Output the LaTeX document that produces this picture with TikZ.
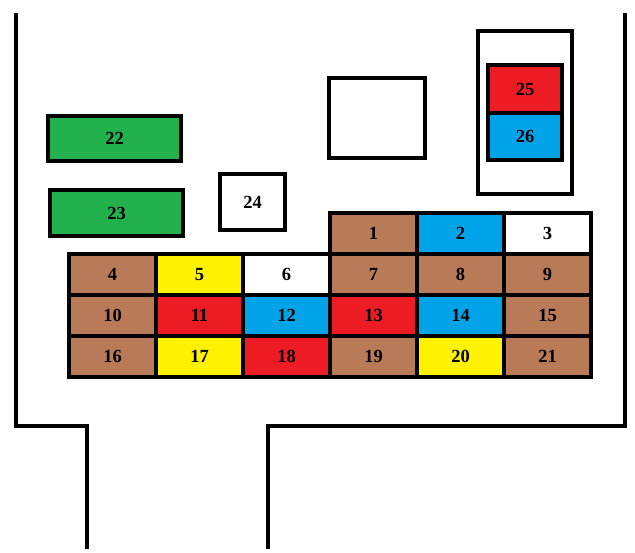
\documentclass[tikz,border=0pt]{standalone}
\usepackage{fontspec}
\setmainfont{Liberation Serif}
\definecolor{fbrown}{HTML}{B97A57}
\definecolor{fred}{HTML}{ED1C24}
\definecolor{fblue}{HTML}{00A2E8}
\definecolor{fyellow}{HTML}{FFF200}
\definecolor{fgreen}{HTML}{22B14C}
\tikzset{
  fuse/.style={draw, line width=4.6pt, inner sep=0pt, minimum width=87pt, minimum height=41pt,
    font=\bfseries\fontsize{18.5}{18.5}\selectfont},
}
\begin{document}
\begin{tikzpicture}[x=1pt, y=-1pt]
        \useasboundingbox (0, 0) rectangle (635, 553);
        % housing outline
        \draw[line width=4.7pt] (16, 13) -- (16, 426) -- (87, 426) -- (87, 549);
        \draw[line width=4.7pt] (625, 13) -- (625, 426) -- (268, 426) -- (268, 549);
        % loose fuses and relays
        \node[fuse, fill=fgreen, minimum width=133pt, minimum height=45pt] (F22) at (114.5, 138.5) {22};
        \node[fuse, fill=fgreen, minimum width=133pt, minimum height=46pt] (F23) at (116.5, 213) {23};
        \node[fuse, fill=white, minimum width=65pt, minimum height=56pt] (F24) at (252.5, 202) {24};
        \node[fuse, minimum width=96pt, minimum height=80pt] (R1) at (377, 118) {};
        \node[fuse, minimum width=94pt, minimum height=163pt] (H1) at (525, 112.5) {};
        \node[fuse, fill=fred, minimum width=74pt, minimum height=48pt] (F25) at (525, 89) {25};
        \node[fuse, fill=fblue, minimum width=74pt, minimum height=47pt] (F26) at (525, 136.5) {26};
        % main block
        \node[fuse, fill=fbrown] (F1) at (373.5, 233.5) {1};
        \node[fuse, fill=fblue] (F2) at (460.5, 233.5) {2};
        \node[fuse, fill=white] (F3) at (547.5, 233.5) {3};
        \node[fuse, fill=fbrown] (F4) at (112.5, 274.5) {4};
        \node[fuse, fill=fyellow] (F5) at (199.5, 274.5) {5};
        \node[fuse, fill=white] (F6) at (286.5, 274.5) {6};
        \node[fuse, fill=fbrown] (F7) at (373.5, 274.5) {7};
        \node[fuse, fill=fbrown] (F8) at (460.5, 274.5) {8};
        \node[fuse, fill=fbrown] (F9) at (547.5, 274.5) {9};
        \node[fuse, fill=fbrown] (F10) at (112.5, 315.5) {10};
        \node[fuse, fill=fred] (F11) at (199.5, 315.5) {11};
        \node[fuse, fill=fblue] (F12) at (286.5, 315.5) {12};
        \node[fuse, fill=fred] (F13) at (373.5, 315.5) {13};
        \node[fuse, fill=fblue] (F14) at (460.5, 315.5) {14};
        \node[fuse, fill=fbrown] (F15) at (547.5, 315.5) {15};
        \node[fuse, fill=fbrown] (F16) at (112.5, 356.5) {16};
        \node[fuse, fill=fyellow] (F17) at (199.5, 356.5) {17};
        \node[fuse, fill=fred] (F18) at (286.5, 356.5) {18};
        \node[fuse, fill=fbrown] (F19) at (373.5, 356.5) {19};
        \node[fuse, fill=fyellow] (F20) at (460.5, 356.5) {20};
        \node[fuse, fill=fbrown] (F21) at (547.5, 356.5) {21};
    \end{tikzpicture}
\end{document}
